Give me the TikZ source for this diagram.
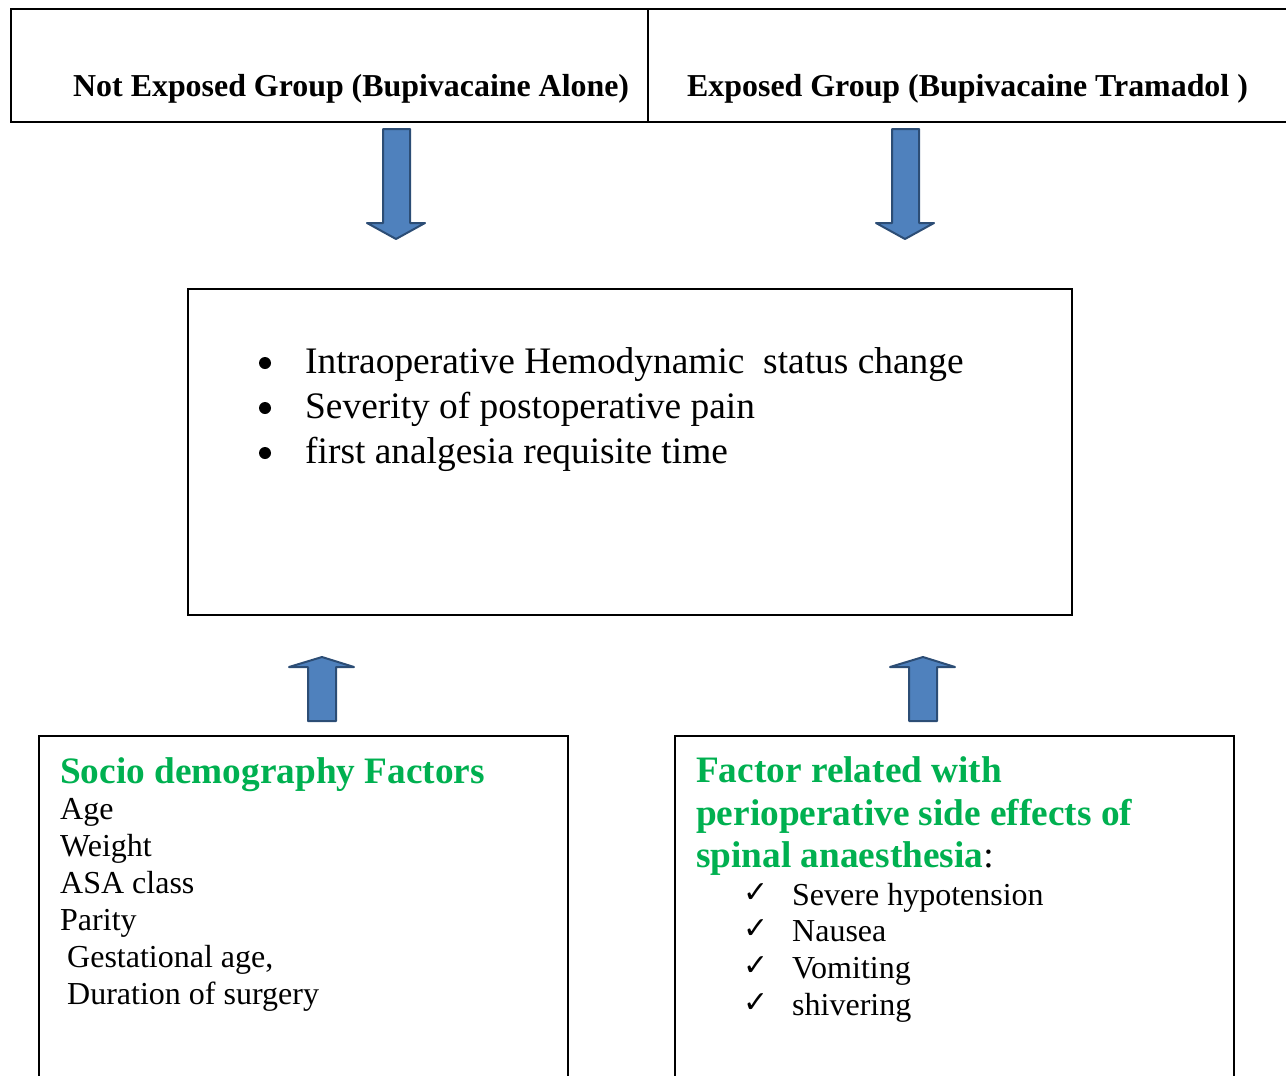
\documentclass[tikz,border=0pt]{standalone}
\usepackage{fontspec}
\setmainfont{Liberation Serif}
\newfontfamily\symfont{DejaVu Sans}
\definecolor{arrowfill}{HTML}{4F81BD}
\definecolor{arrowline}{HTML}{2C4D75}
\definecolor{titlegreen}{HTML}{00B050}
\tikzset{
  boxline/.style={draw=black, line width=2pt},
  blockarrow/.style={fill=arrowfill, draw=arrowline, line width=2pt, line join=round},
  hdr/.style={anchor=base west, inner sep=0pt, font=\fontsize{31.9}{36}\selectfont\bfseries},
  bul/.style={anchor=base west, inner sep=0pt, font=\fontsize{37.4}{44}\selectfont},
  dot/.style={circle, fill=black, inner sep=0pt, minimum size=12pt},
  item/.style={anchor=base west, inner sep=0pt, font=\fontsize{32}{38}\selectfont},
  gtitle/.style={anchor=base west, inner sep=0pt, text=titlegreen, font=\fontsize{37.3}{44}\selectfont\bfseries},
  chk/.style={anchor=base west, inner sep=0pt, font=\fontsize{30}{36}\symfont\bfseries},
}
\begin{document}
\begin{tikzpicture}[x=1pt,y=-1pt]
\useasboundingbox (0,0) rectangle (1286,1076);
% top box
\draw[boxline] (1290,9) -- (11,9) -- (11,122) -- (1290,122);
\draw[line width=1.2pt] (648,9) -- (648,122);
\node[hdr] (hl) at (73,96) {Not Exposed Group (Bupivacaine Alone)};
\node[hdr] (hr) at (687,96) {Exposed Group (Bupivacaine Tramadol )};
% down arrows
\draw[blockarrow] (383,129) -- (410,129) -- (410,223) -- (425,223) -- (396,239) -- (367,223) -- (383,223) -- cycle;
\draw[blockarrow] (892,129) -- (919,129) -- (919,223) -- (934,223) -- (905,239) -- (876,223) -- (892,223) -- cycle;
% middle box
\draw[boxline] (188,289) rectangle (1072,615);
\node[dot] (b1) at (265,363) {};
\node[bul] (t1) at (305,373) {Intraoperative Hemodynamic\ \ status change};
\node[dot] (b2) at (265,408) {};
\node[bul] (t2) at (305,418) {Severity of postoperative pain};
\node[dot] (b3) at (265,453) {};
\node[bul] (t3) at (305,463) {first analgesia requisite time};
% up arrows
\draw[blockarrow] (308,721) -- (336,721) -- (336,667) -- (354,667) -- (322,657) -- (289,667) -- (308,667) -- cycle;
\draw[blockarrow] (909,721) -- (937,721) -- (937,667) -- (955,667) -- (923,657) -- (890,667) -- (909,667) -- cycle;
% bottom left box
\draw[boxline] (39,1080) -- (39,736) -- (568,736) -- (568,1080);
\node[gtitle] (st) at (60,783) {Socio demography Factors};
\node[item] (l1) at (60,819) {Age};
\node[item] (l2) at (60,856) {Weight};
\node[item] (l3) at (60,893) {ASA class};
\node[item] (l4) at (60,930) {Parity};
\node[item] (l5) at (67,967) {Gestational age,};
\node[item] (l6) at (67,1004) {Duration of surgery};
% bottom right box
\draw[boxline] (675,1080) -- (675,736) -- (1234,736) -- (1234,1080);
\node[gtitle] (ft1) at (696,782) {Factor related with};
\node[gtitle] (ft2) at (696,825) {perioperative side effects of};
\node[gtitle] (ft3) at (696,867) {spinal anaesthesia\textcolor{black}{\mdseries:}};
\node[chk] (c1) at (743,902) {✓};
\node[item] (r1) at (792,905) {Severe hypotension};
\node[chk] (c2) at (743,938) {✓};
\node[item] (r2) at (792,941) {Nausea};
\node[chk] (c3) at (743,975) {✓};
\node[item] (r3) at (792,978) {Vomiting};
\node[chk] (c4) at (743,1012) {✓};
\node[item] (r4) at (792,1015) {shivering};
\end{tikzpicture}
\end{document}
